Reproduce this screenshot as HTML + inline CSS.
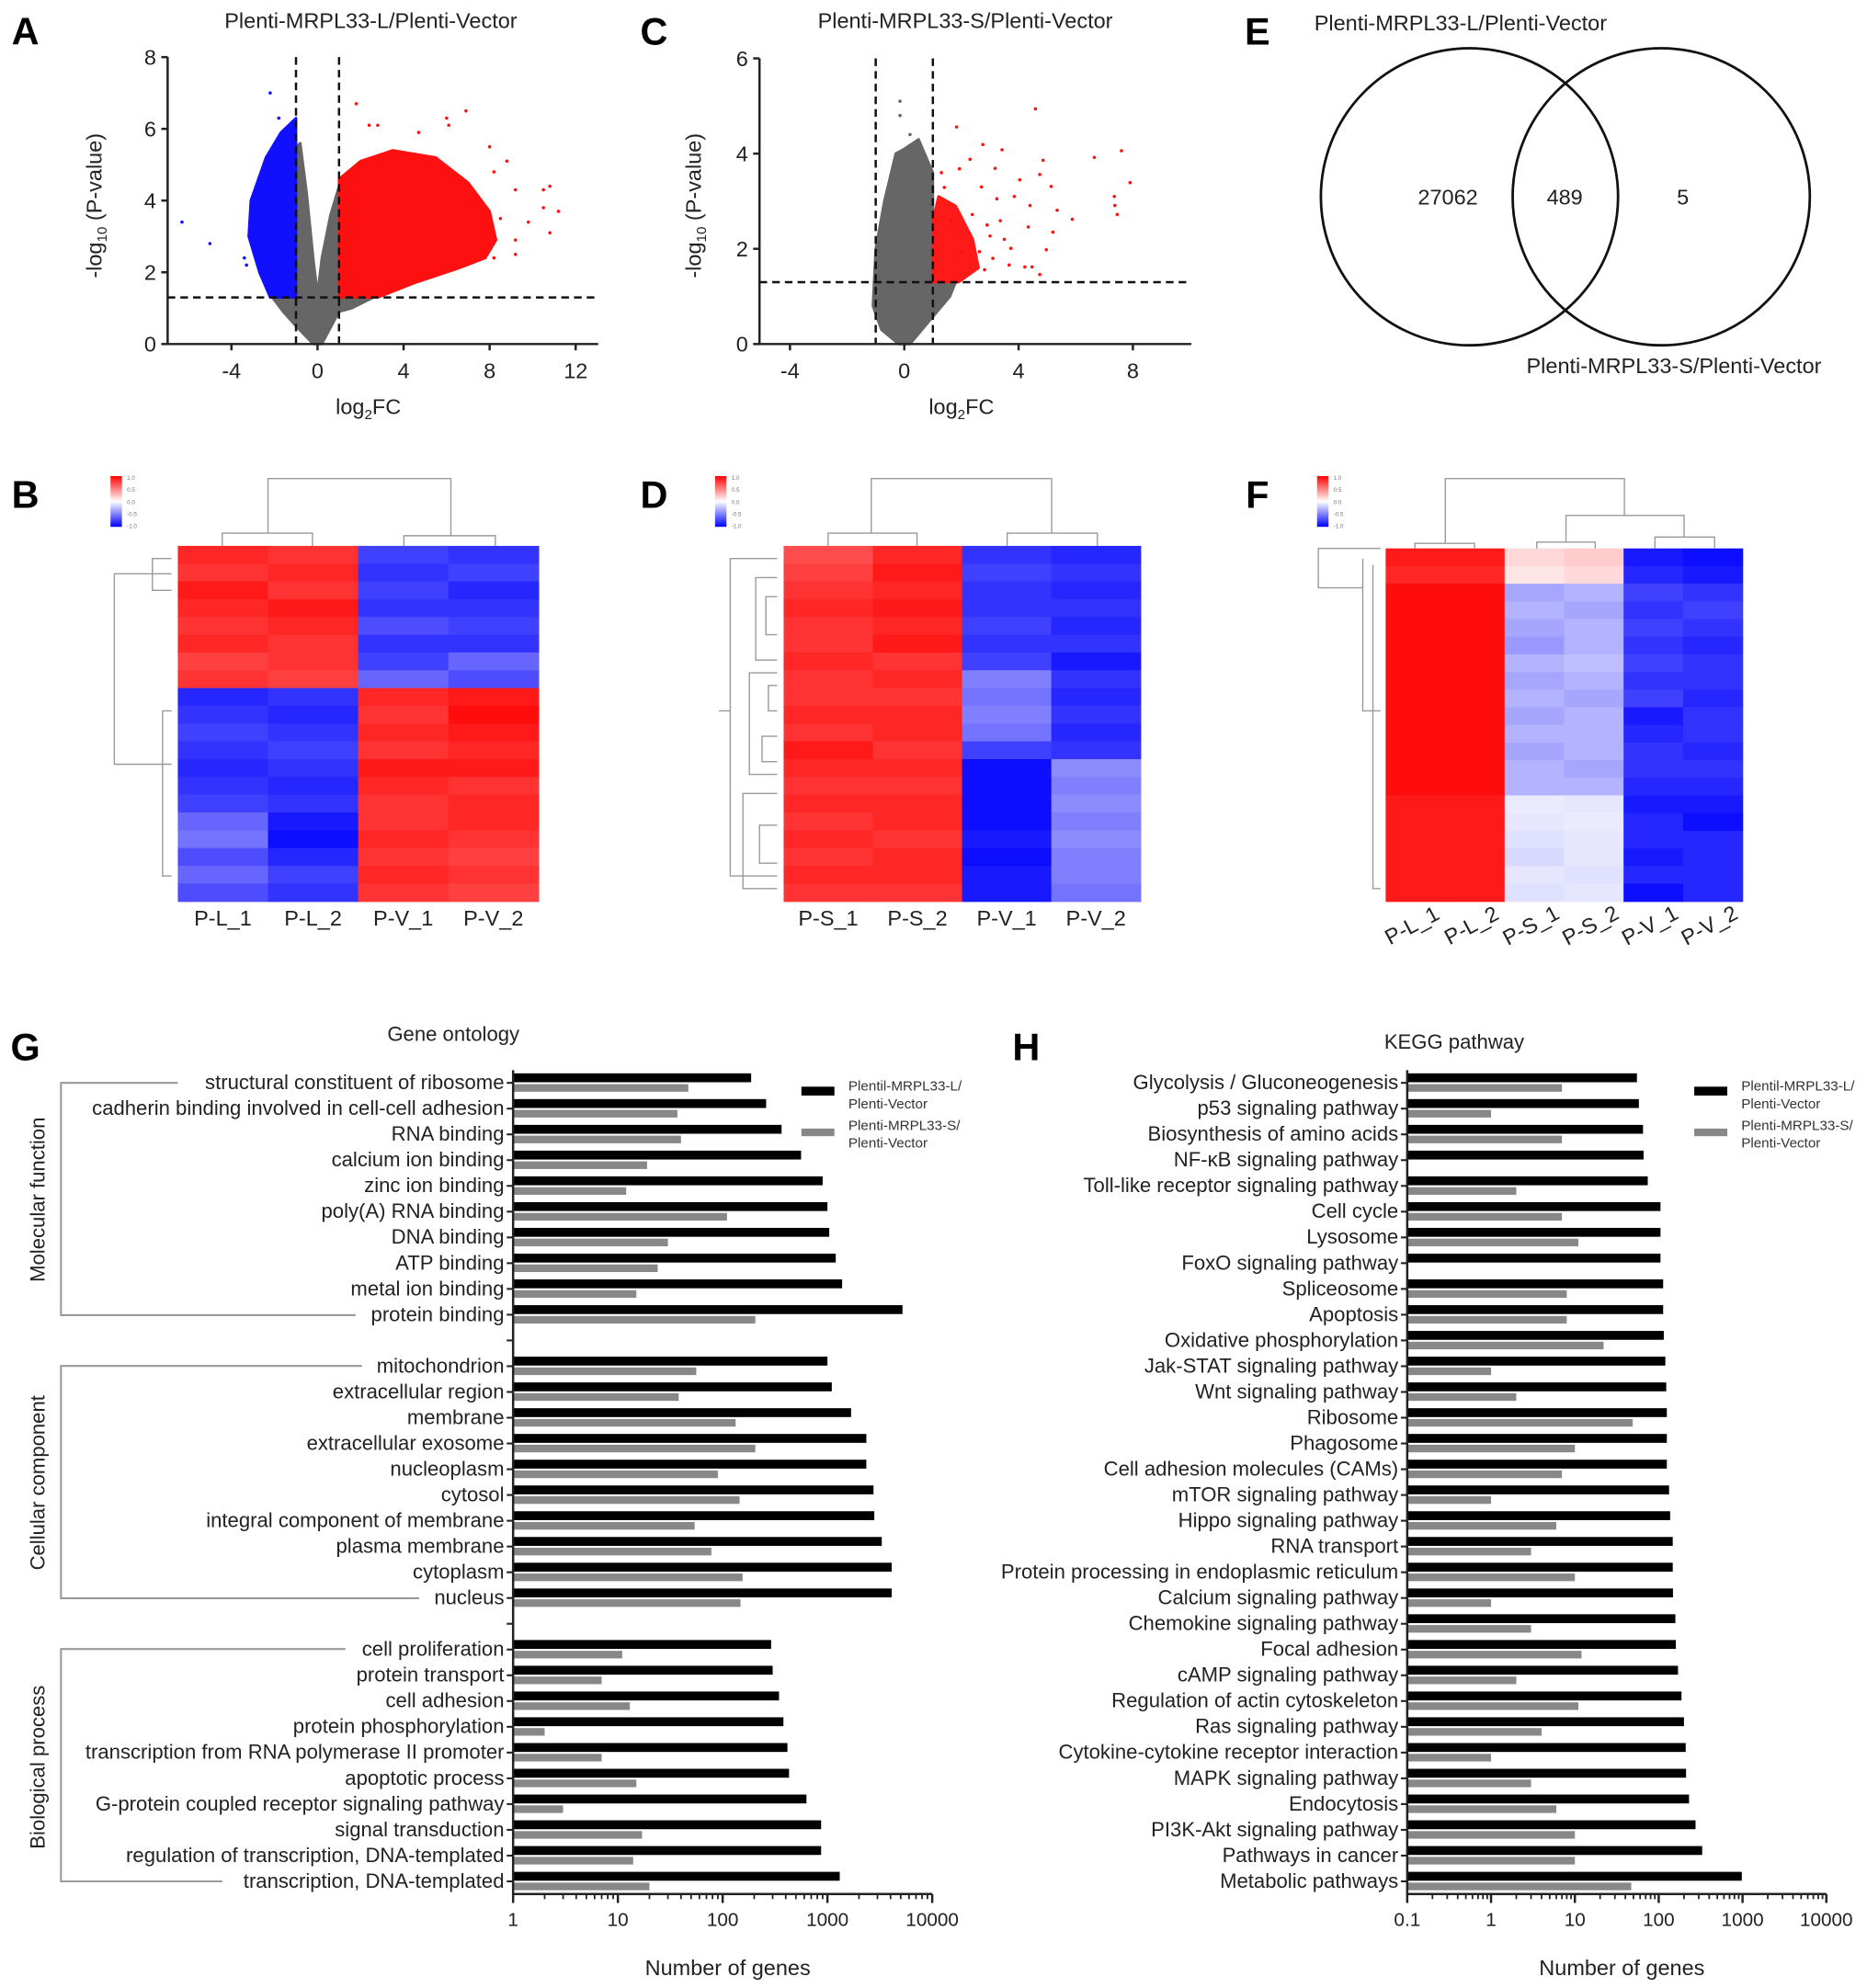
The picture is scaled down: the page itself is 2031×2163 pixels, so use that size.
<!DOCTYPE html>
<html><head><meta charset="utf-8"><title>MRPL33 figure</title>
<style>
html,body{margin:0;padding:0;background:#fff;}
svg{display:block;font-family:"Liberation Sans",Arial,sans-serif;}
</style></head>
<body>
<svg id="fig" xmlns="http://www.w3.org/2000/svg" width="2031" height="2163" viewBox="0 0 1470 1566" preserveAspectRatio="none">
<rect x="0" y="0" width="1470" height="1566" fill="#fff"/>
</svg>
<script>
// ---------------- DATA ----------------
const goTerms = ["structural constituent of ribosome","cadherin binding involved in cell-cell adhesion","RNA binding","calcium ion binding","zinc ion binding","poly(A) RNA binding","DNA binding","ATP binding","metal ion binding","protein binding",
"mitochondrion","extracellular region","membrane","extracellular exosome","nucleoplasm","cytosol","integral component of membrane","plasma membrane","cytoplasm","nucleus",
"cell proliferation","protein transport","cell adhesion","protein phosphorylation","transcription from RNA polymerase II promoter","apoptotic process","G-protein coupled receptor signaling pathway","signal transduction","regulation of transcription, DNA-templated","transcription, DNA-templated"];
const goL = [187,260,365,560,900,1000,1040,1200,1380,5200, 1000,1100,1680,2350,2350,2750,2800,3300,4100,4100, 290,300,345,380,415,430,630,870,870,1310];
const goS = [47,37,40,19,12,110,30,24,15,205, 56,38,133,205,90,145,54,78,155,148, 11,7,13,2,7,15,3,17,14,20];
const goTicks = [1,10,100,1000,10000];
const goTickLabels = ["1","10","100","1000","10000"];

const keggTerms = ["Glycolysis / Gluconeogenesis","p53 signaling pathway","Biosynthesis of amino acids","NF-κB signaling pathway","Toll-like receptor signaling pathway","Cell cycle","Lysosome","FoxO signaling pathway","Spliceosome","Apoptosis","Oxidative phosphorylation","Jak-STAT signaling pathway","Wnt signaling pathway","Ribosome","Phagosome","Cell adhesion molecules (CAMs)","mTOR signaling pathway","Hippo signaling pathway","RNA transport","Protein processing in endoplasmic reticulum","Calcium signaling pathway","Chemokine signaling pathway","Focal adhesion","cAMP signaling pathway","Regulation of actin cytoskeleton","Ras signaling pathway","Cytokine-cytokine receptor interaction","MAPK signaling pathway","Endocytosis","PI3K-Akt signaling pathway","Pathways in cancer","Metabolic pathways"];
const keggL = [55,58,65,66,74,105,105,105,113,113,115,120,123,125,125,125,133,137,147,147,148,158,160,170,187,200,210,212,230,275,330,980];
const keggS = [7,1,7,0,2,7,11,0,8,8,22,1,2,49,10,7,1,6,3,10,1,3,12,2,11,4,1,3,6,10,10,47];
const keggTicks = [0.1,1,10,100,1000,10000];
const keggTickLabels = ["0.1","1","10","100","1000","10000"];

// Volcano A (log2FC, -log10 p)
const volAGray = [[-0.2,0],[0.2,0],[1.0,0.9],[1.6,1.0],[2.6,1.3],[1,1.3],[1,4.4],[0.6,3.6],[0.2,2.4],[0,1.4],[-0.2,2.4],[-0.5,4.2],[-0.8,5.6],[-1,5.5],[-1,1.3],[-2.1,1.3],[-1.6,0.9],[-1,0.5]];
const volABlue = [[-1,1.3],[-2.2,1.3],[-2.7,2.0],[-3.2,3.0],[-3.1,4.0],[-2.4,5.2],[-1.7,5.9],[-1,6.3]];
const volARed = [[1,1.3],[2.8,1.3],[4.5,1.7],[6.5,2.1],[7.8,2.4],[8.3,2.9],[8.0,3.7],[7.0,4.5],[5.5,5.2],[3.5,5.4],[2.0,5.1],[1,4.6]];
const volABlueOut = [[-6.3,3.4],[-5.0,2.8],[-2.2,7.0],[-1.8,6.3],[-3.4,2.4],[-3.3,2.2],[-1.3,5.8]];
const volARedOut = [[1.8,6.7],[2.4,6.1],[2.8,6.1],[6.9,6.5],[6.0,6.3],[6.1,6.1],[8.0,5.5],[10.5,4.3],[10.8,4.4],[11.2,3.7],[10.5,3.8],[10.8,3.1],[9.8,3.4],[9.2,2.5],[9.2,2.9],[8.5,3.5],[8.8,5.1],[8.2,4.8],[4.7,5.9],[7.5,2.9],[8.2,2.4],[9.2,4.3]];
// Volcano C
const volCGray = [[-0.2,0],[0.2,0],[0.9,0.5],[1.6,1.0],[1.8,1.3],[1,1.3],[1,3.6],[0.5,4.3],[0,4.1],[-0.3,4.0],[-0.7,3.0],[-1.0,2.0],[-1.1,0.8],[-0.8,0.3]];
const volCGrayOut = [[-0.15,5.1],[-0.15,4.8],[0.2,4.4],[0.3,4.2]];
const volCRed = [[1,1.3],[1.9,1.3],[2.6,1.6],[2.4,2.2],[1.8,2.9],[1.2,3.1],[1,2.6]];
const volCRedOut = [[4.59,4.94],[1.83,4.56],[2.75,4.19],[3.42,4.08],[7.6,4.06],[6.65,3.92],[4.86,3.86],[2.3,3.88],[1.93,3.68],[3.18,3.69],[4.04,3.45],[7.9,3.39],[4.74,3.56],[5.14,3.31],[7.35,3.1],[7.37,2.91],[7.45,2.72],[5.88,2.62],[5.35,2.81],[4.4,2.91],[5.2,2.35],[4.97,1.98],[4.74,1.46],[4.47,1.62],[4.22,1.62],[3.67,1.66],[3.73,2.01],[3.36,2.59],[3.0,2.27],[2.63,1.94],[2.38,2.72],[2.26,2.33],[3.85,3.1],[4.34,2.46],[2.81,1.56],[3.24,3.05],[1.4,3.29],[1.64,2.59],[2.01,1.94],[3.1,1.8],[2.9,2.5],[3.5,2.2],[2.7,3.3],[1.3,3.6]];
const volAxTicksA = [-4,0,4,8,12];
const volAyTicksA = [0,2,4,6,8];
const volAxTicksC = [-4,0,4,8];
const volAyTicksC = [0,2,4,6];

// Venn
const vennCounts = ["27062","489","5"];

// Heatmaps (values -1..1)
const hmBLabels = ["P-L_1","P-L_2","P-V_1","P-V_2"];
const hmB = [[.85,.8,-.75,-.8],[.8,.85,-.8,-.75],[.9,.8,-.75,-.85],[.85,.9,-.8,-.8],[.8,.85,-.7,-.75],[.85,.8,-.8,-.8],[.75,.8,-.75,-.6],[.8,.75,-.6,-.7],
[-.85,-.8,.85,.9],[-.8,-.85,.8,.95],[-.75,-.8,.85,.9],[-.8,-.75,.8,.85],[-.85,-.8,.9,.9],[-.8,-.85,.85,.8],[-.75,-.8,.8,.85],[-.6,-.9,.8,.85],[-.55,-.95,.85,.8],[-.7,-.85,.8,.75],[-.6,-.75,.85,.8],[-.7,-.8,.8,.75]];
const hmDLabels = ["P-S_1","P-S_2","P-V_1","P-V_2"];
const hmD = [[.7,.85,-.8,-.85],[.75,.9,-.75,-.8],[.8,.85,-.8,-.85],[.85,.9,-.8,-.8],[.8,.85,-.75,-.85],[.8,.9,-.8,-.8],[.85,.8,-.75,-.9],[.8,.85,-.5,-.8],[.8,.8,-.55,-.85],[.85,.85,-.5,-.8],[.8,.85,-.55,-.85],[.9,.8,-.75,-.8],
[.85,.85,-.95,-.45],[.8,.8,-.95,-.5],[.85,.85,-.95,-.45],[.8,.85,-.95,-.5],[.85,.8,-.9,-.45],[.8,.85,-.95,-.5],[.85,.85,-.9,-.5],[.8,.8,-.9,-.55]];
const hmFLabels = ["P-L_1","P-L_2","P-S_1","P-S_2","P-V_1","P-V_2"];
const hmF = [[.9,.9,.15,.2,-.9,-.95],[.85,.85,.1,.15,-.85,-.9],[.95,.95,-.35,-.3,-.75,-.8],[.95,.95,-.3,-.35,-.8,-.75],[.95,.95,-.35,-.3,-.75,-.8],[.95,.95,-.4,-.3,-.8,-.85],[.95,.95,-.3,-.25,-.75,-.8],[.95,.95,-.35,-.3,-.8,-.8],[.95,.95,-.3,-.35,-.75,-.85],[.95,.95,-.35,-.3,-.9,-.8],[.95,.95,-.3,-.3,-.85,-.8],[.95,.95,-.35,-.3,-.8,-.85],[.95,.95,-.3,-.35,-.8,-.8],[.95,.95,-.3,-.3,-.85,-.85],
[.9,.9,-.08,-.1,-.9,-.9],[.9,.9,-.1,-.08,-.85,-.95],[.9,.9,-.12,-.1,-.85,-.85],[.9,.9,-.15,-.1,-.9,-.85],[.9,.9,-.1,-.12,-.85,-.85],[.9,.9,-.12,-.1,-.95,-.85]];

// ---------------- HELPERS ----------------
const NS='http://www.w3.org/2000/svg';
const svg=document.getElementById('fig');
function mk(tag,attrs,parent){const e=document.createElementNS(NS,tag);for(const k in attrs)e.setAttribute(k,attrs[k]);(parent||svg).appendChild(e);return e;}
function txt(s,x,y,size,anchor,attrs){const a=Object.assign({x:x,y:y,'font-size':size,'text-anchor':anchor||'start',fill:'#222'},attrs||{});const e=mk('text',a);e.textContent=s;return e;}
function hmColor(v){v=Math.max(-1,Math.min(1,v));let r,g,b;if(v>=0){r=255;g=b=Math.round(255*(1-v));}else{b=255;r=g=Math.round(255*(1+v));}return 'rgb('+r+','+g+','+b+')';}

let el;
// ---------- Panel letters ----------
[["A",20,35],["C",515,35],["E",990,35],["B",20,400],["D",515,400],["F",990,400],["G",20,835],["H",808,835]].forEach(p=>{
  el=txt(p[0],p[1],p[2],30,'middle',{'font-weight':'bold',fill:'#000'});
  
  
});

// ---------- Volcano ----------
function volcano(id,cfg){
  const g=mk('g',{});
  
  
  const X=v=>cfg.x0+v*cfg.sx, Y=v=>cfg.y0-v*cfg.sy;
  const poly=(pts,col,name)=>{const p=mk('polygon',{points:pts.map(q=>X(q[0])+','+Y(q[1])).join(' '),fill:col,stroke:col,'stroke-width':2,'stroke-linejoin':'round'},g);
    
    };
  const dots=(pts,col,name)=>pts.forEach(q=>{const c=mk('circle',{cx:X(q[0]),cy:Y(q[1]),r:1.3,fill:col},g);
    
    });
  cfg.layers.forEach(L=>{ if(L.type==='poly') poly(L.pts,L.col,L.name); else dots(L.pts,L.col,L.name); });
  [[X(-1),cfg.yTop,X(-1),cfg.y0],[X(1),cfg.yTop,X(1),cfg.y0],[cfg.axL,Y(1.3),cfg.axR,Y(1.3)]].forEach((d,i)=>{
    const l=mk('line',{x1:d[0],y1:d[1],x2:d[2],y2:d[3],stroke:'#111','stroke-width':1.8,'stroke-dasharray':'6,4'},g);
    
    
  });
  el=mk('path',{d:'M'+cfg.axL+','+cfg.yTop+' V'+cfg.y0+' H'+cfg.axR,fill:'none',stroke:'#222','stroke-width':1.8},g);
  
  
  cfg.xt.forEach(t=>{mk('line',{x1:X(t),x2:X(t),y1:cfg.y0,y2:cfg.y0+5,stroke:'#222','stroke-width':1.8},g);
    el=txt(String(t),X(t),cfg.y0+27,17,'middle');
    
    });
  cfg.yt.forEach(t=>{mk('line',{x1:cfg.axL-5,x2:cfg.axL,y1:Y(t),y2:Y(t),stroke:'#222','stroke-width':1.8},g);
    el=txt(String(t),cfg.axL-9,Y(t)+6,17,'end');
    
    });
  el=mk('text',{x:cfg.ylx,y:cfg.yly,'font-size':17,'text-anchor':'middle',fill:'#222',transform:'rotate(-90 '+cfg.ylx+' '+cfg.yly+')'},g);
  el.innerHTML='-log<tspan font-size="11" dy="4">10</tspan><tspan dy="-4"> (P-value)</tspan>';
  
  
  el=mk('text',{x:cfg.xlx,y:cfg.xly,'font-size':17,'text-anchor':'middle',fill:'#222'},g);
  el.innerHTML='log<tspan font-size="11" dy="4">2</tspan><tspan dy="-4">FC</tspan>';
  
  
  el=txt(cfg.title,cfg.tx,22,17,'middle');
  
  
}
volcano('a',{x0:250,sx:16.94,y0:271,sy:28.25,yTop:45,axL:132,axR:471,xt:volAxTicksA,yt:volAyTicksA,ylx:80,yly:162,xlx:290,xly:326,tx:292,title:'Plenti-MRPL33-L/Plenti-Vector',
  layers:[{type:'poly',pts:volAGray,col:'#666',name:'nonsignificant-genes'},{type:'poly',pts:volABlue,col:'#1010ff',name:'downregulated-genes'},{type:'poly',pts:volARed,col:'#ff1010',name:'upregulated-genes'},{type:'dots',pts:volABlueOut,col:'#1010ff',name:'downregulated-point'},{type:'dots',pts:volARedOut,col:'#ff1010',name:'upregulated-point'}]});
volcano('c',{x0:712,sx:22.5,y0:271,sy:37.5,yTop:46,axL:598,axR:938,xt:volAxTicksC,yt:volAyTicksC,ylx:552,yly:162,xlx:757,xly:326,tx:760,title:'Plenti-MRPL33-S/Plenti-Vector',
  layers:[{type:'poly',pts:volCGray,col:'#666',name:'nonsignificant-genes'},{type:'dots',pts:volCGrayOut,col:'#666',name:'nonsignificant-point'},{type:'poly',pts:volCRed,col:'#ff1a1a',name:'upregulated-genes'},{type:'dots',pts:volCRedOut,col:'#ff1010',name:'upregulated-point'}]});

// ---------- Venn ----------
el=mk('circle',{cx:1157,cy:155,r:117,fill:'none',stroke:'#111','stroke-width':2});


el=mk('circle',{cx:1308,cy:155,r:117,fill:'none',stroke:'#111','stroke-width':2});


[[1140],[1232],[1325]].forEach((p,i)=>{el=txt(vennCounts[i],p[0],161,17,'middle');
  
  });
el=txt('Plenti-MRPL33-L/Plenti-Vector',1150,24,17,'middle');


el=txt('Plenti-MRPL33-S/Plenti-Vector',1318,294,17,'middle');



// ---------- Heatmaps ----------
function heatmap(id,M,labels,x0,y0,w,h,rotate,legX,dendro){
  const g=mk('g',{});
  
  
  const nr=M.length,nc=M[0].length,cw=w/nc,rh=h/nr;
  M.forEach((row,i)=>row.forEach((v,j)=>{
    const r=mk('rect',{x:x0+j*cw,y:y0+i*rh,width:cw+0.5,height:rh+0.5,fill:hmColor(v)},g);
    
    
  }));
  labels.forEach((s,j)=>{
    const cx=x0+(j+0.5)*cw;
    if(rotate){el=txt(s,cx,y0+h+24,17,'middle',{transform:'rotate(-28 '+cx+' '+(y0+h+24)+')'});}
    else el=txt(s,cx,y0+h+19,17,'middle');
    
    
  });
  const gid='grad'+id;
  const defs=mk('defs',{},g);
  const lg=mk('linearGradient',{id:gid,x1:0,y1:0,x2:0,y2:1},defs);
  mk('stop',{offset:'0','stop-color':'#f00'},lg);mk('stop',{offset:'0.5','stop-color':'#fff'},lg);mk('stop',{offset:'1','stop-color':'#00f'},lg);
  el=mk('rect',{x:legX,y:375,width:9,height:40,fill:'url(#'+gid+')'},g);
  
  
  ['1.0','0.5','0.0','-0.5','-1.0'].forEach((s,k)=>{el=txt(s,legX+13,378+k*9.5,4.5,'start',{fill:'#777'});
    
    });
  el=mk('path',{d:dendro,fill:'none',stroke:'#999','stroke-width':1},g);
  
  
}
heatmap('b',hmB,hmBLabels,140,430,284,280,false,87,
 'M211,420 V377 H355 V422 M175,430 V420 H246 V430 M318,430 V422 H390 V430 M135,452 H90 V602 H135 M135,440 H120 V465 H135 M135,560 H128 V690 H135');
heatmap('d',hmD,hmDLabels,617,430,281,280,false,563,
 'M686,420 V377 H828 V420 M652,430 V420 H722 V430 M793,430 V420 H864 V430 M612,440 H575 V690 H612 M575,560 H566 M612,455 H595 V520 H612 M612,470 H603 V500 H612 M612,530 H590 V610 H612 M612,580 H600 V600 H612 M612,625 H585 V700 H612 M612,650 H598 V680 H612 M612,540 H605 V560 H612');
heatmap('f',hmF,hmFLabels,1091,432,281,278,true,1037,
 'M1138,428 V377 H1279 V406 M1114,432 V428 H1161 V432 M1233,427 V406 H1326 V423 M1210,432 V427 H1256 V432 M1303,432 V423 H1350 V432 M1087,432 H1038 V463 H1073 M1073,440 V560 H1087 M1081,445 V700 H1087');

// ---------- Bar charts ----------
function barChart(id,terms,L,S,ticks,tickLabels,x0,x1,slotOf){
  const g=mk('g',{});
  
  
  const lmin=Math.log10(ticks[0]),lmax=Math.log10(ticks[ticks.length-1]);
  const X=v=>x0+(Math.log10(v)-lmin)/(lmax-lmin)*(x1-x0);
  const Y=s=>853+s*20.29;
  const yBottom=1492;
  const nSlots=slotOf(terms.length-1)+1;
  for(let s=0;s<nSlots;s++){mk('line',{x1:x0-5,x2:x0,y1:Y(s),y2:Y(s),stroke:'#222','stroke-width':1.5},g);}
  terms.forEach((t,i)=>{
    const y=Y(slotOf(i));
    el=txt(t,x0-7,y+5,16,'end');
    
    
    el=mk('rect',{x:x0,y:y-7.5,width:Math.max(0,X(L[i])-x0),height:7,fill:'#000'},g);
    
    
    if(S[i]>0){
      el=mk('rect',{x:x0,y:y+1,width:Math.max(0,X(S[i])-x0),height:6,fill:'#888'},g);
      
      
    }
  });
  el=mk('path',{d:'M'+x0+',843 V'+yBottom+' H'+x1,fill:'none',stroke:'#222','stroke-width':1.8},g);
  
  
  ticks.forEach((t,k)=>{
    mk('line',{x1:X(t),x2:X(t),y1:yBottom,y2:yBottom+7,stroke:'#222','stroke-width':1.8},g);
    el=txt(tickLabels[k],X(t),yBottom+25,15,'middle');
    
    
    if(k<ticks.length-1){for(let m=2;m<10;m++){mk('line',{x1:X(t*m),x2:X(t*m),y1:yBottom,y2:yBottom+4,stroke:'#222','stroke-width':1.3},g);}}
  });
  el=txt('Number of genes',(x0+x1)/2+4,1556,17,'middle');
  
  
}
barChart('go',goTerms,goL,goS,goTicks,goTickLabels,404,734,i=>i+Math.floor(i/10));
barChart('kegg',keggTerms,keggL,keggS,keggTicks,keggTickLabels,1108,1438,i=>i);

el=txt('Gene ontology',357,820,16,'middle');


el=txt('KEGG pathway',1145,826,16,'middle');



[['M140,853 H48 V1036 H280','Molecular function',945],['M285,1076 H48 V1259 H330','Cellular component',1168],['M272,1299 H48 V1482 H175','Biological process',1392]].forEach(b=>{
  el=mk('path',{d:b[0],fill:'none',stroke:'#999','stroke-width':1.5});
  
  
  el=txt(b[1],35,b[2],16,'middle',{transform:'rotate(-90 35 '+b[2]+')'});
  
  
});

function legend(x,y){
  el=mk('rect',{x:x,y:y,width:26,height:7,fill:'#000'});
  
  
  el=mk('rect',{x:x,y:y+33,width:26,height:6,fill:'#888'});
  
  
  [['Plentil-MRPL33-L/',-1],['Plenti-Vector',13],['Plenti-MRPL33-S/',30],['Plenti-Vector',44]].forEach(t=>{
    el=txt(t[0],x+37,y+t[1]+4,11,'start',{fill:'#333'});
    
    
  });
}
legend(631,856);
legend(1334,856);
</script>
</body></html>
